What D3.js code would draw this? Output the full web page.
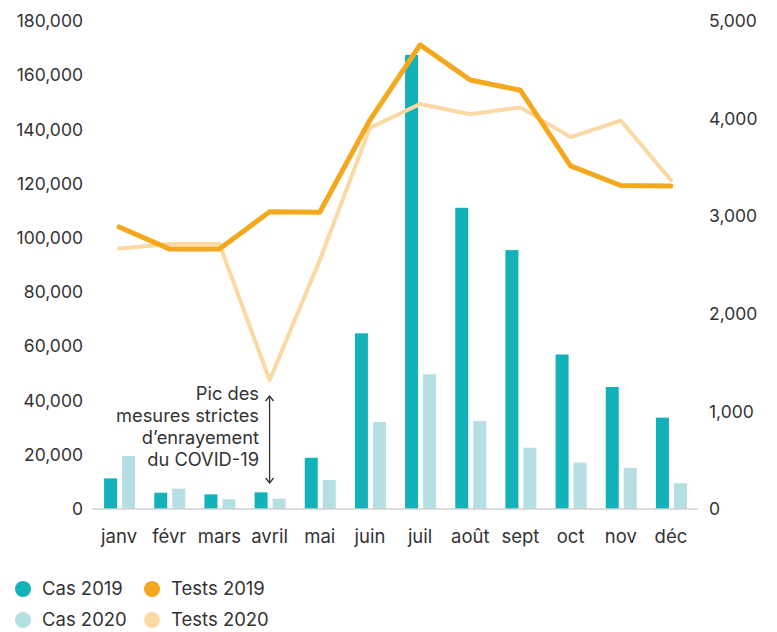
<!DOCTYPE html>
<html>
<head>
<meta charset="utf-8">
<script src="https://d3js.org/d3.v7.min.js"></script>
<style>
  body { margin: 0; background: #fff; }
  text { font-family: Inter, "Noto Sans", sans-serif; fill: #333; }
</style>
</head>
<body>
<svg id="chart" width="777" height="632"></svg>
<script>
var months = ["janv", "févr", "mars", "avril", "mai", "juin", "juil", "août", "sept", "oct", "nov", "déc"];
var cas2019 = [11300, 6000, 5400, 6150, 18900, 64800, 167500, 111100, 95500, 57000, 45000, 33700];
var cas2020 = [19550, 7500, 3600, 3800, 10700, 32100, 49700, 32500, 22600, 17100, 15200, 9500];
var tests2019 = [2890, 2665, 2665, 3045, 3040, 3985, 4755, 4395, 4290, 3515, 3315, 3310];
var tests2020 = [2670, 2715, 2715, 1320, 2550, 3905, 4150, 4045, 4115, 3810, 3980, 3370];
var leftTicks = [0, 20000, 40000, 60000, 80000, 100000, 120000, 140000, 160000, 180000];
var rightTicks = [0, 1000, 2000, 3000, 4000, 5000];

var svg = d3.select("#chart");
var fmt = d3.format(",");

var x = d3.scaleBand().domain(months).range([94, 696]);
var yL = d3.scaleLinear().domain([0, 180000]).range([509, 21]);
var yR = d3.scaleLinear().domain([0, 5000]).range([509, 21]);

// left axis
svg.append("g")
  .attr("transform", "translate(83,0)")
  .call(d3.axisLeft(yL).tickValues(leftTicks).tickFormat(fmt).tickSize(0).tickPadding(0))
  .call(function(g) { g.select(".domain").remove(); })
  .selectAll("text").style("font-size", "17.5px").attr("fill", "#333");

// right axis
svg.append("g")
  .attr("transform", "translate(709,0)")
  .call(d3.axisRight(yR).tickValues(rightTicks).tickFormat(fmt).tickSize(0).tickPadding(0))
  .call(function(g) { g.select(".domain").remove(); })
  .selectAll("text").style("font-size", "17.5px").attr("fill", "#333");

// bars
var bw = 13;
svg.append("g").selectAll("rect.c19").data(cas2019).enter().append("rect")
  .attr("x", function(d, i) { return x(months[i]) + x.bandwidth() / 2 - bw - 2; })
  .attr("y", function(d) { return yL(d); })
  .attr("width", bw)
  .attr("height", function(d) { return yL(0) - yL(d); })
  .attr("fill", "#13b2b8");

svg.append("g").selectAll("rect.c20").data(cas2020).enter().append("rect")
  .attr("x", function(d, i) { return x(months[i]) + x.bandwidth() / 2 + 3; })
  .attr("y", function(d) { return yL(d); })
  .attr("width", bw)
  .attr("height", function(d) { return yL(0) - yL(d); })
  .attr("fill", "#b5dfe3");

// baseline
svg.append("line")
  .attr("x1", 92).attr("x2", 698)
  .attr("y1", yL(0)).attr("y2", yL(0))
  .attr("stroke", "#d0d0d0").attr("stroke-width", 1.5);

// x labels
svg.append("g").selectAll("text").data(months).enter().append("text")
  .attr("x", function(d) { return x(d) + x.bandwidth() / 2; })
  .attr("y", 543)
  .attr("text-anchor", "middle")
  .style("font-size", "18.5px")
  .text(function(d) { return d; });

// lines
var line = d3.line()
  .x(function(d, i) { return x(months[i]) + x.bandwidth() / 2; })
  .y(function(d) { return yR(d); });

svg.append("path").datum(tests2020)
  .attr("d", line).attr("fill", "none")
  .attr("stroke", "#fbd8a4").attr("stroke-width", 4)
  .attr("stroke-linejoin", "round").attr("stroke-linecap", "round");

svg.append("path").datum(tests2019)
  .attr("d", line).attr("fill", "none")
  .attr("stroke", "#f5a81e").attr("stroke-width", 5)
  .attr("stroke-linejoin", "round").attr("stroke-linecap", "round");

// annotation
var note = ["Pic des", "mesures strictes", "d\u2019enrayement", "du COVID-19"];
svg.append("g").selectAll("text").data(note).enter().append("text")
  .attr("x", 259)
  .attr("y", function(d, i) { return 400 + i * 22; })
  .attr("text-anchor", "end")
  .style("font-size", "18.3px")
  .text(function(d) { return d; });

var ax = x("avril") + x.bandwidth() / 2;
svg.append("line")
  .attr("x1", ax).attr("x2", ax).attr("y1", 397).attr("y2", 482)
  .attr("stroke", "#333").attr("stroke-width", 1.3);
svg.append("path")
  .attr("d", "M" + (ax - 4) + ",401 L" + ax + ",396 L" + (ax + 4) + ",401")
  .attr("fill", "none").attr("stroke", "#333").attr("stroke-width", 1.3);
svg.append("path")
  .attr("d", "M" + (ax - 4) + ",478 L" + ax + ",483 L" + (ax + 4) + ",478")
  .attr("fill", "none").attr("stroke", "#333").attr("stroke-width", 1.3);

// legend
var legend = [
  { name: "Cas 2019", color: "#13b2b8", x: 23, y: 589 },
  { name: "Tests 2019", color: "#f5a81e", x: 152, y: 589 },
  { name: "Cas 2020", color: "#b5dfe3", x: 23, y: 620 },
  { name: "Tests 2020", color: "#fbd8a4", x: 152, y: 620 }
];
var lg = svg.append("g").selectAll("g").data(legend).enter().append("g")
  .attr("transform", function(d) { return "translate(" + d.x + "," + d.y + ")"; });
lg.append("circle").attr("r", 8).attr("fill", function(d) { return d.color; });
lg.append("text").attr("x", 19).attr("dy", "0.35em")
  .style("font-size", "18.5px")
  .text(function(d) { return d.name; });
</script>
</body>
</html>
